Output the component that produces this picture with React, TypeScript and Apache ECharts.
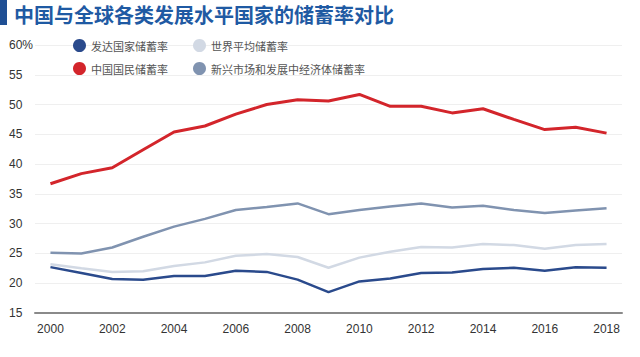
import React, { useEffect, useRef } from "react";
import * as echarts from "echarts";

const years = ["2000","2001","2002","2003","2004","2005","2006","2007","2008","2009","2010","2011","2012","2013","2014","2015","2016","2017","2018"];
const developed = [22.7,21.7,20.7,20.6,21.2,21.2,22.1,21.9,20.6,18.5,20.3,20.8,21.7,21.8,22.4,22.6,22.1,22.7,22.6];
const world = [23.2,22.5,21.9,22.0,22.9,23.5,24.6,24.9,24.4,22.6,24.3,25.3,26.1,26.0,26.6,26.4,25.8,26.4,26.6];
const china = [36.7,38.4,39.4,42.4,45.4,46.4,48.4,50.0,50.8,50.6,51.7,49.7,49.7,48.6,49.3,47.5,45.8,46.2,45.2];
const emerging = [25.1,25.0,26.0,27.8,29.5,30.8,32.3,32.8,33.4,31.6,32.3,32.9,33.4,32.7,33.0,32.3,31.8,32.2,32.6];

const names = ["发达国家储蓄率", "世界平均储蓄率", "中国国民储蓄率", "新兴市场和发展中经济体储蓄率"];
const title = "中国与全球各类发展水平国家的储蓄率对比";

export default function App() {
  const ref = useRef<HTMLDivElement>(null);
  useEffect(() => {
    const chart = echarts.init(ref.current!, null, { renderer: "svg" });
    const font = "'Liberation Sans', Arial, 'Noto Sans CJK SC', sans-serif";
    const legendText = { fontSize: 11, color: "#555", fontFamily: "'Noto Sans CJK SC', sans-serif" };
    chart.setOption({
      animation: false,
      backgroundColor: "#ffffff",
      graphic: [
        { type: "rect", left: 0, top: 0, shape: { width: 7, height: 25 }, style: { fill: "#1f4f94" } },
        {
          type: "text", left: 14, top: 4,
          style: { text: title, fontSize: 20, fontWeight: "bold", fill: "#1f5aa3", fontFamily: "'Noto Sans CJK SC', sans-serif" },
        },
      ],
      legend: [
        {
          data: [names[0], names[1]], left: 68, top: 34, itemWidth: 13, itemHeight: 13, itemGap: 25,
          icon: "circle", textStyle: legendText,
        },
        {
          data: [names[2], names[3]], left: 68, top: 57, itemWidth: 13, itemHeight: 13, itemGap: 25,
          icon: "circle", textStyle: legendText,
        },
      ],
      grid: { left: 35, right: 18, top: 45, bottom: 44, containLabel: false },
      xAxis: {
        type: "category",
        data: years,
        boundaryGap: true,
        axisLine: { lineStyle: { color: "#8a8a8a", width: 2 } },
        axisTick: { show: false },
        axisLabel: { interval: 1, margin: 10, fontSize: 12, color: "#333", fontFamily: font },
      },
      yAxis: {
        type: "value",
        min: 15, max: 60, interval: 5,
        axisLine: { show: false },
        axisTick: { show: false },
        splitLine: { lineStyle: { color: "#efefef", width: 1 } },
        axisLabel: {
          align: "left", margin: 26, fontSize: 12, color: "#333", fontFamily: font,
          formatter: (v: number) => (v === 60 ? "60%" : String(v)),
        },
      },
      series: [
        { name: names[0], type: "line", data: developed, symbol: "none", color: "#2a4a8c", lineStyle: { width: 2.5, color: "#2a4a8c" }, z: 4 },
        { name: names[1], type: "line", data: world, symbol: "none", color: "#d2d9e4", lineStyle: { width: 2.5, color: "#d2d9e4" }, z: 2 },
        { name: names[2], type: "line", data: china, symbol: "none", color: "#d3252b", lineStyle: { width: 3, color: "#d3252b" }, z: 5 },
        { name: names[3], type: "line", data: emerging, symbol: "none", color: "#8093b0", lineStyle: { width: 2.5, color: "#8093b0" }, z: 3 },
      ],
    });
    return () => chart.dispose();
  }, []);
  return <div ref={ref} style={{ width: 640, height: 357, position: "absolute", left: 0, top: 0 }} />;
}
